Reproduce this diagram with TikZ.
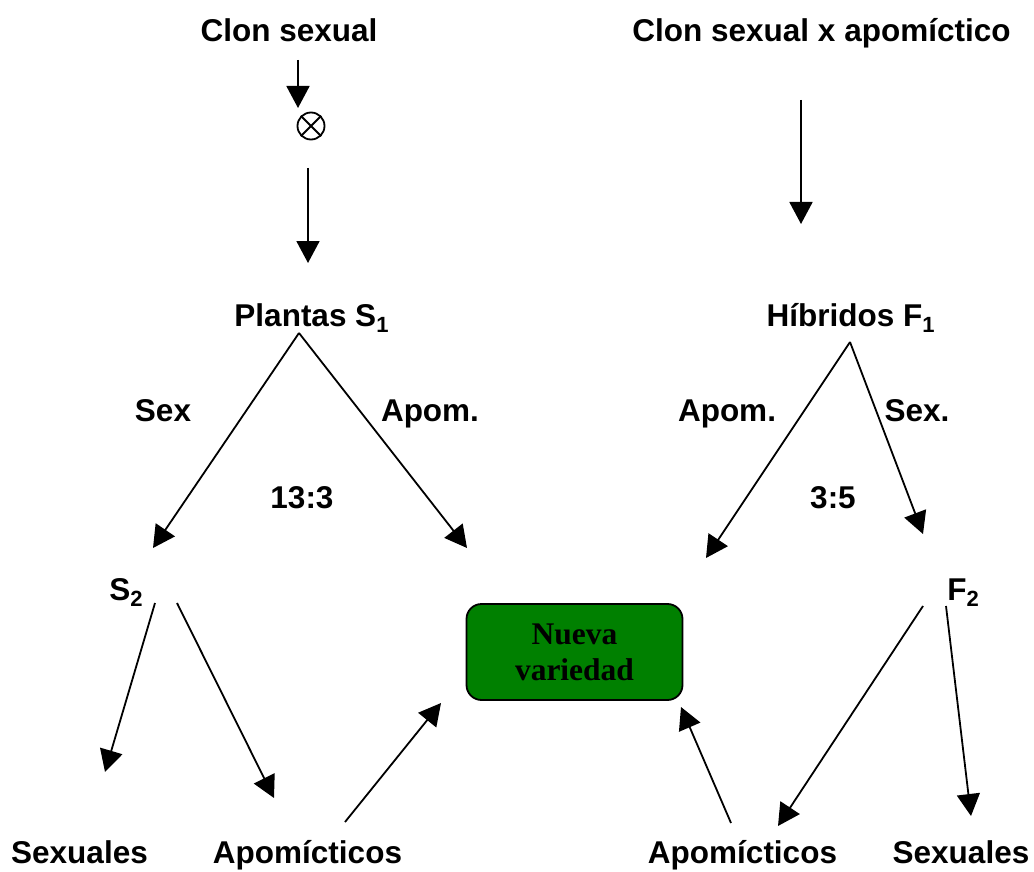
\documentclass[tikz,border=0pt]{standalone}
\usepackage{fontspec}
\setmainfont{Liberation Sans}
\newfontfamily\boxfont{Liberation Serif}
\usetikzlibrary{arrows.meta}
\newcommand\mysub[1]{\raisebox{-0.22em}{\fontsize{22}{22}\selectfont #1}}
\tikzset{
  lbl/.style={inner sep=0pt, anchor=base, font=\fontsize{31.5}{36}\selectfont\bfseries},
  arr/.style={line width=1.8pt, -{Triangle[length=22pt,width=23pt]}},
  varbox/.style={draw=black, line width=1.8pt, fill={rgb,255:red,0;green,128;blue,0}, rounded corners=15pt,
    minimum width=216pt, minimum height=96pt, align=center, inner sep=0pt,
    font=\fontsize{31.5}{36}\boxfont\bfseries}
}
\begin{document}
\begin{tikzpicture}[x=1pt,y=-1pt]
\useasboundingbox (0,0) rectangle (1034,872);
% labels
\node[lbl] (cs) at (289,42) {Clon sexual};
\node[lbl] (csa) at (821.5,42) {Clon sexual x apomíctico};
\node[lbl] (pl) at (311.5,326) {Plantas S\mysub{1}};
\node[lbl] (hi) at (850.5,326) {Híbridos F\mysub{1}};
\node[lbl] (sexL) at (163,421) {Sex};
\node[lbl] (apomL) at (430,421) {Apom.};
\node[lbl] (apomR) at (727,421) {Apom.};
\node[lbl] (sexR) at (917,421) {Sex.};
\node[lbl] (r1) at (302,508) {13:3};
\node[lbl] (r2) at (833,508) {3:5};
\node[lbl] (s2) at (126,600) {S\mysub{2}};
\node[lbl] (f2) at (963,600) {F\mysub{2}};
\node[lbl] (sx1) at (79.5,863) {Sexuales};
\node[lbl] (ap1) at (307.5,863) {Apomícticos};
\node[lbl] (ap2) at (742.5,863) {Apomícticos};
\node[lbl] (sx2) at (961,863) {Sexuales};
\node[varbox] (nv) at (574.5,652) {Nueva\\variedad};
% otimes
\node[circle, draw, line width=1.8pt, minimum size=27pt, inner sep=0pt] (ot) at (311,126) {};
\draw[line width=1.8pt] (ot.north east) -- (ot.south west) (ot.north west) -- (ot.south east);
% coordinates
\coordinate (a1s) at (298,60);  \coordinate (a1e) at (298,108);
\coordinate (a2s) at (308,168); \coordinate (a2e) at (308,263);
\coordinate (a3s) at (801,100); \coordinate (a3e) at (801,224);
\coordinate (plA) at (299,333); \coordinate (plL) at (153,548); \coordinate (plR) at (467,548);
\coordinate (hiA) at (850,342); \coordinate (hiL) at (706,558); \coordinate (hiR) at (923,534);
\coordinate (s2a) at (155,603); \coordinate (s2L) at (105,772);
\coordinate (s2b) at (177,603); \coordinate (s2R) at (274,798);
\coordinate (f2a) at (923,606); \coordinate (f2L) at (778,826);
\coordinate (f2b) at (946,606); \coordinate (f2R) at (971,816);
\coordinate (ap1s) at (345,822); \coordinate (ap1e) at (441,703);
\coordinate (ap2s) at (731,823); \coordinate (ap2e) at (681,707);
% arrows
\draw[arr] (a1s) -- (a1e);
\draw[arr] (a2s) -- (a2e);
\draw[arr] (a3s) -- (a3e);
\draw[arr] (plA) -- (plL);
\draw[arr] (plA) -- (plR);
\draw[arr] (hiA) -- (hiL);
\draw[arr] (hiA) -- (hiR);
\draw[arr] (s2a) -- (s2L);
\draw[arr] (s2b) -- (s2R);
\draw[arr] (f2a) -- (f2L);
\draw[arr] (f2b) -- (f2R);
\draw[arr] (ap1s) -- (ap1e);
\draw[arr] (ap2s) -- (ap2e);
\end{tikzpicture}
\end{document}
